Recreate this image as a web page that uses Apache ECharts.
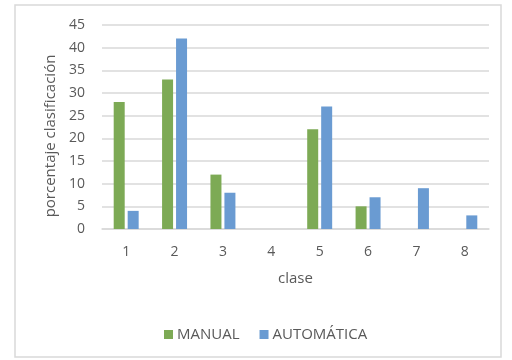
<!DOCTYPE html>
<html>
<head>
<meta charset="utf-8">
<script src="https://cdn.jsdelivr.net/npm/echarts@6/dist/echarts.min.js"></script>
<style>
html,body{margin:0;padding:0;background:#fff;}
#c{width:512px;height:360px;}
</style>
</head>
<body>
<div id="c"></div>
<script>
const categories = ['1','2','3','4','5','6','7','8'];
const manual = [28, 33, 12, 0, 22, 5, 0, 0];
const automatica = [4, 42, 8, 0, 27, 7, 9, 3];
const seriesNames = ['MANUAL', 'AUTOMÁTICA'];

const FONT = 'Open Sans';
const TXT = '#595959';
const chart = echarts.init(document.getElementById('c'), null, {renderer: 'canvas'});
chart.setOption({
  animation: false,
  backgroundColor: '#fff',
  textStyle: {fontFamily: FONT},
  graphic: [{
    type: 'rect',
    shape: {x: 15, y: 5, width: 486, height: 352},
    style: {fill: 'none', stroke: '#D9D9D9', lineWidth: 1.5},
    silent: true
  }],
  grid: {left: 102, right: 23, top: 25, bottom: 131},
  legend: {
    data: seriesNames,
    top: 322,
    left: 159,
    itemWidth: 9,
    itemHeight: 9,
    itemGap: 20,
    icon: 'rect',
    textStyle: {fontFamily: FONT, fontSize: 15, color: TXT, padding: [0,0,0,-1]}
  },
  xAxis: {
    type: 'category',
    data: categories,
    axisTick: {show: false},
    axisLine: {lineStyle: {color: '#D9D9D9', width: 1.5}},
    axisLabel: {fontFamily: FONT, fontSize: 14, color: TXT, margin: 16},
    name: 'clase',
    nameLocation: 'middle',
    nameGap: 42,
    nameTextStyle: {fontFamily: FONT, fontSize: 15, color: TXT}
  },
  yAxis: {
    type: 'value',
    min: 0, max: 45, interval: 5,
    axisLine: {show: false},
    axisTick: {show: false},
    splitLine: {lineStyle: {color: '#D9D9D9', width: 1.5}},
    axisLabel: {fontFamily: FONT, fontSize: 14, color: TXT, margin: 17},
    name: 'porcentaje clasificación',
    nameLocation: 'middle',
    nameRotate: 90,
    nameGap: 42,
    nameTextStyle: {fontFamily: FONT, fontSize: 15, color: TXT, padding: [0, 18, 0, 0]}
  },
  series: [
    {
      name: seriesNames[0], type: 'bar', data: manual,
      barWidth: 11, barGap: '27%',
      itemStyle: {color: '#7DAA55'}
    },
    {
      name: seriesNames[1], type: 'bar', data: automatica,
      barWidth: 11, barGap: '27%',
      itemStyle: {color: '#6A9BD2'}
    }
  ]
});
</script>
</body>
</html>
